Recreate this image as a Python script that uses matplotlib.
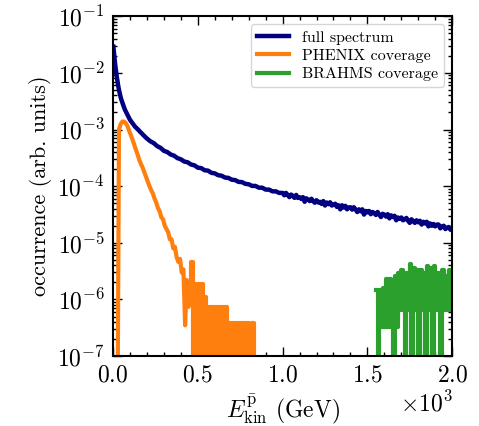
import matplotlib
matplotlib.use("Agg")
import matplotlib.pyplot as plt
import numpy as np
from matplotlib.ticker import MultipleLocator, LogLocator

plt.rcParams['font.family'] = 'serif'
plt.rcParams['font.serif'] = ['cmr10']
plt.rcParams['mathtext.fontset'] = 'cm'
plt.rcParams['axes.formatter.use_mathtext'] = True
plt.rcParams['path.simplify'] = False

# ---- data ----
# full spectrum: energies (GeV) and occurrence
e_full_low = [2, 6, 10, 14, 18, 22, 26, 30, 35, 40, 45, 50, 60, 70, 80, 90, 100,
              110, 120, 130, 140, 150, 160, 170, 180, 190]
full_low = [2.9e-2, 2.2e-2, 1.66e-2, 1.29e-2, 1.05e-2, 8.5e-3, 7.2e-3, 6.0e-3, 5.0e-3,
            4.3e-3, 3.7e-3, 3.3e-3, 2.7e-3, 2.24e-3, 1.95e-3, 1.70e-3, 1.48e-3,
            1.35e-3, 1.23e-3, 1.12e-3, 1.05e-3, 9.8e-4, 9.1e-4, 8.5e-4, 7.9e-4, 7.4e-4]
e_full_mid = list(range(200, 1000, 20))
full_mid = [6.92e-4, 6.2e-4, 5.75e-4, 5.1e-4, 4.75e-4, 4.2e-4, 4.0e-4, 3.62e-4, 3.45e-4, 3.12e-4,
            2.98e-4, 2.72e-4, 2.64e-4, 2.41e-4, 2.33e-4, 2.12e-4, 2.08e-4, 1.91e-4, 1.88e-4, 1.72e-4,
            1.68e-4, 1.56e-4, 1.53e-4, 1.42e-4, 1.40e-4, 1.30e-4, 1.28e-4, 1.19e-4, 1.18e-4, 1.10e-4,
            1.08e-4, 1.01e-4, 1.01e-4, 9.4e-5, 9.4e-5, 8.7e-5, 8.7e-5, 8.1e-5, 8.1e-5, 7.6e-5]
e_full_high = list(range(1000, 2001, 10))
full_high = [7.6e-5, 6.9e-5, 7.6e-5, 7.0e-5, 6.4e-5, 7.1e-5, 6.75e-5, 6.2e-5, 7.0e-5, 6.2e-5,
             6.4e-5, 5.95e-5, 6.4e-5, 5.3e-5, 6.1e-5, 5.8e-5, 5.45e-5, 6.0e-5, 5.45e-5, 5.1e-5,
             5.65e-5, 5.15e-5, 5.3e-5, 4.85e-5, 5.45e-5, 4.55e-5, 5.15e-5, 4.8e-5, 5.2e-5, 4.55e-5,
             4.7e-5, 4.9e-5, 4.3e-5, 4.6e-5, 3.9e-5, 4.6e-5, 4.2e-5, 4.5e-5, 3.9e-5, 4.2e-5,
             4.25e-5, 3.85e-5, 4.25e-5, 3.9e-5, 3.5e-5, 3.9e-5, 3.6e-5, 3.9e-5, 3.15e-5, 3.65e-5,
             3.45e-5, 3.65e-5, 3.2e-5, 3.5e-5, 3.35e-5, 3.1e-5, 3.5e-5, 3.15e-5, 2.85e-5, 3.25e-5,
             3.15e-5, 2.9e-5, 3.2e-5, 2.7e-5, 3.05e-5, 2.85e-5, 3.0e-5, 2.5e-5, 2.8e-5, 2.65e-5,
             2.8e-5, 2.5e-5, 2.6e-5, 2.75e-5, 2.45e-5, 2.25e-5, 2.6e-5, 2.4e-5, 2.25e-5, 2.5e-5,
             2.3e-5, 2.45e-5, 2.1e-5, 2.35e-5, 2.2e-5, 2.35e-5, 1.95e-5, 2.2e-5, 2.0e-5, 2.15e-5,
             1.95e-5, 2.1e-5, 2.1e-5, 1.8e-5, 1.95e-5, 2.0e-5, 1.75e-5, 1.85e-5, 1.9e-5, 1.7e-5,
             1.8e-5]
e_full = e_full_low + e_full_mid + e_full_high
full = full_low + full_mid + full_high

# PHENIX coverage: 10 GeV bins (bin centres)
phenix_e = list(range(5, 845, 10))
phenix = [0, 0, 0, 1.0e-3, 1.25e-3, 1.38e-3, 1.38e-3, 1.3e-3, 1.15e-3, 9.5e-4,
          8.0e-4, 6.6e-4, 5.4e-4, 4.4e-4, 3.6e-4, 2.9e-4, 2.45e-4, 2.1e-4, 1.75e-4, 1.45e-4,
          1.2e-4, 1.0e-4, 8.5e-5, 7.4e-5, 6.0e-5, 5.1e-5, 4.1e-5, 3.6e-5, 2.8e-5, 2.6e-5,
          2.0e-5, 1.75e-5, 1.55e-5, 1.15e-5, 1.15e-5, 8.0e-6, 8.5e-6, 5.6e-6, 4.6e-6, 5.2e-6,
          3.0e-6, 3.4e-6, 3.5e-7, 2.2e-6, 7.4e-7, 1.5e-6, 4.5e-6, 0, 1.85e-6, 0,
          1.85e-6, 0, 1.85e-6, 0, 1.1e-6, 0, 7.4e-7, 0, 7.4e-7, 0,
          7.4e-7, 0, 7.4e-7, 0, 7.4e-7, 0, 7.4e-7, 0, 3.8e-7, 0,
          3.8e-7, 0, 3.8e-7, 0, 3.8e-7, 0, 3.8e-7, 0, 3.8e-7, 3.8e-7,
          0, 0, 3.8e-7, 0]
phenix_tail_start = 45  # from here on the histogram is drawn as steps

# BRAHMS coverage: 10 GeV bins from 1550 to 2000 (bin edges)
brahms_edges = list(range(1550, 2001, 10))
brahms = [1.5e-6, 0, 1.5e-6, 3.25e-7, 1.6e-6, 3.25e-7, 2.3e-6, 3.25e-7, 2.3e-6, 3.25e-7,
          0, 2.6e-6, 3.25e-7, 2.9e-6, 6.5e-7, 3.25e-6, 6.5e-7, 0, 2.9e-6, 6.5e-7,
          4.2e-6, 0, 3.6e-6, 6.5e-7, 3.25e-6, 0, 3.25e-6, 6.5e-7, 2.9e-6, 0,
          3.9e-6, 6.5e-7, 3.6e-6, 0, 3.9e-6, 6.5e-7, 2.9e-6, 6.5e-7, 0, 3.25e-6,
          6.5e-7, 2.6e-6, 6.5e-7, 3.25e-6, 6.5e-7]

# empty bins are drawn just below the visible range
floor = 1e-9
ph = np.maximum(np.array(phenix), floor)
br = np.maximum(np.array(brahms + [brahms[-1]]), floor)

# ---- plot ----
fig = plt.figure(figsize=(4.79, 4.26), dpi=100)
ax = fig.add_axes([0.236, 0.164, 0.708, 0.798])
ax.set_yscale('log')

ax.plot(e_full, full, color='navy', lw=3.2, label='full spectrum')
n = phenix_tail_start
ax.plot(phenix_e[:n + 1], ph[:n + 1], color='#ff7f0e', lw=3, label='PHENIX coverage')
ax.step(phenix_e[n:], ph[n:], where='mid', color='#ff7f0e', lw=3)
ax.step(brahms_edges, br, where='post', color='#2ca02c', lw=3, label='BRAHMS coverage')

ax.set_xlim(0, 2000)
ax.set_ylim(1e-7, 1e-1)
ax.xaxis.set_major_locator(MultipleLocator(500))
ax.xaxis.set_minor_locator(MultipleLocator(100))
ax.ticklabel_format(axis='x', style='sci', scilimits=(0, 0), useMathText=True)
ax.yaxis.set_major_locator(LogLocator(base=10, numticks=10))
ax.yaxis.set_minor_locator(LogLocator(base=10, subs=np.arange(2, 10), numticks=20))

ax.tick_params(which='both', direction='in', top=True, right=True, labelsize=17)
ax.tick_params(which='major', length=6.5, width=1)
ax.tick_params(which='minor', length=3, width=1)
ax.tick_params(axis='x', which='major', pad=6)
ax.tick_params(axis='y', which='major', pad=6)
ax.xaxis.get_offset_text().set_fontsize(17)
for s in ax.spines.values():
    s.set_linewidth(1.5)

ax.set_xlabel(r'$E_{\rm kin}^{\bar{\rm p}}$ (GeV)', fontsize=17)
ax.set_ylabel('occurrence (arb. units)', fontsize=16)
ax.legend(loc='upper right', fontsize=11.5, labelspacing=0.25)

fig.savefig('out.png', dpi=100)
